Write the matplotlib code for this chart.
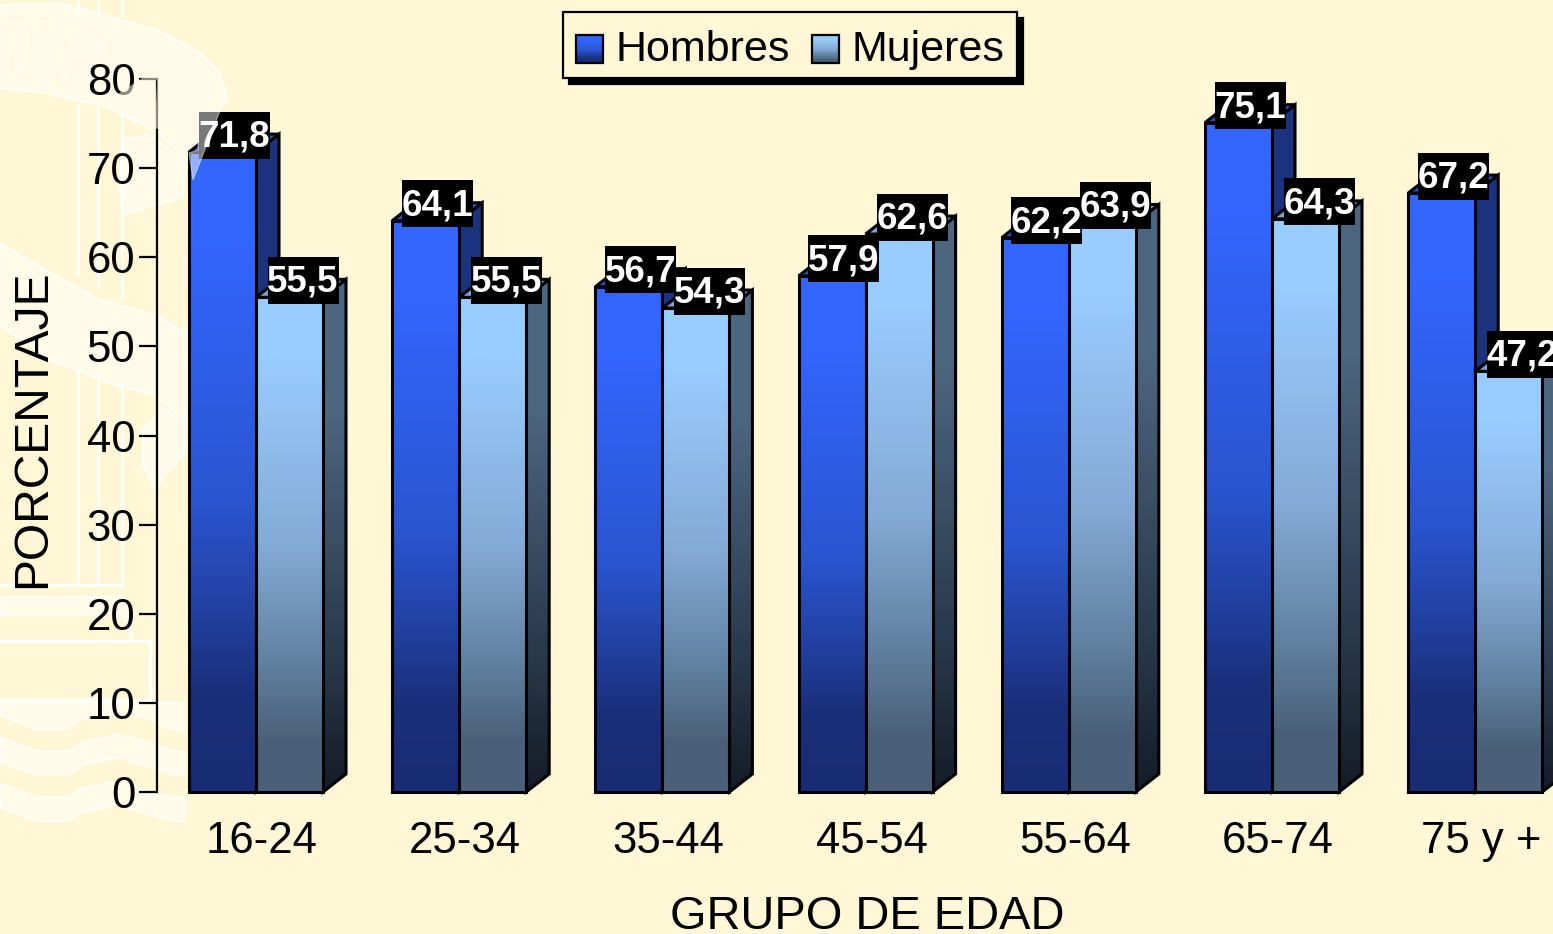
import numpy as np
import matplotlib
matplotlib.use('Agg')
import matplotlib.pyplot as plt
from matplotlib.colors import LinearSegmentedColormap
from matplotlib.legend_handler import HandlerBase
from matplotlib.patches import Patch, Polygon, Rectangle

plt.rcParams['font.family'] = ['Liberation Sans', 'DejaVu Sans']

grupos = ['16-24', '25-34', '35-44', '45-54', '55-64', '65-74', '75 y +']
hombres = [71.8, 64.1, 56.7, 57.9, 62.2, 75.1, 67.2]
mujeres = [55.5, 55.5, 54.3, 62.6, 63.9, 64.3, 47.2]
etiquetas_y = [0, 10, 20, 30, 40, 50, 60, 70, 80]

W, H = 1553, 934
FONDO = '#FFF7D6'
PALIDO = '#FFFBE8'

cm_h = LinearSegmentedColormap.from_list('h', [(0, '#3366FF'), (.12, '#3366FF'), (.55, '#2A55D0'),
                                               (.85, '#1A2F7A'), (1, '#182C75')])
cm_h_lado = LinearSegmentedColormap.from_list('hl', [(0, '#1C3480'), (.6, '#1A3078'), (1, '#0F1C48')])
cm_m = LinearSegmentedColormap.from_list('m', [(0, '#99CCFF'), (.12, '#99CCFF'), (.5, '#84AAD6'),
                                               (.75, '#5F7F9E'), (.9, '#4A6078'), (1, '#4A6078')])
cm_m_lado = LinearSegmentedColormap.from_list('ml', [(0, '#4D6680'), (.25, '#4D6680'), (.75, '#28374A'),
                                                     (1, '#141C26')])
grad = np.linspace(0, 1, 256).reshape(-1, 1)

fig = plt.figure(figsize=(W / 100, H / 100), dpi=100, facecolor=FONDO)

# watermark behind the chart, in pixels
bg = fig.add_axes([0, 0, 1, 1])
bg.set_xlim(0, W)
bg.set_ylim(H, 0)
bg.axis('off')
pale = dict(facecolor=PALIDO, edgecolor='white', linewidth=1.2)
letra = dict(facecolor='#FFFCEC', edgecolor='#FFF8DC', linewidth=1)
bg.add_patch(Polygon([(0, 5), (60, 3), (157, 30), (200, 53), (220, 73), (227, 97), (218, 113),
                      (187, 160), (157, 132), (110, 108), (47, 93), (0, 88)], **pale))
bg.add_patch(Polygon([(122, 140), (150, 135), (187, 163), (182, 197), (122, 215), (120, 185)], **pale))
bg.add_patch(Polygon([(0, 243), (45, 270), (100, 300), (155, 315), (190, 335), (190, 425),
                      (155, 395), (115, 385), (50, 360), (0, 325)], **pale))
bg.add_patch(Polygon([(162, 408), (190, 425), (188, 450), (165, 475), (155, 490), (143, 465),
                      (143, 430)], **pale))
bg.add_patch(Polygon([(0, 18), (52, 19), (50, 27), (32, 28), (28, 80), (13, 75), (15, 27), (0, 25)], **letra))
bg.add_patch(Polygon([(70, 27), (105, 35), (112, 50), (100, 62), (112, 87), (98, 80), (85, 62),
                      (75, 62), (68, 88), (56, 85)], **letra))
for x0, a0, a1, b0 in ((78, 105, 275, 372), (98, 108, 285, 380), (122, 116, 298, 385)):
    bg.plot([x0, x0], [a0, a1], color='white', lw=1.8)
    bg.plot([x0, x0], [b0, 585], color='white', lw=1.8)
    bg.plot([x0, x0], [0, 15], color='white', lw=1.8)
bg.plot([0, 122], [585, 585], color='white', lw=2)
bg.plot([0, 125], [597, 597], color='white', lw=1.2)
bg.fill_between([0, 122, 132], [597, 597, 610], [615, 615, 640], color=PALIDO, ec='white', lw=1)
bg.plot([0, 150, 150, 0], [641, 641, 700, 700], color='white', lw=2.5)

ola_x = [0, 37, 67, 83, 115, 143, 173, 184]
olas = [([702, 702, 703, 703, 702, 702, 702, 702], [715, 729, 728, 718, 713, 717, 729, 730]),
        ([737, 751, 751, 742, 734, 740, 751, 751], [762, 774, 774, 765, 757, 764, 774, 774]),
        ([783, 797, 797, 788, 781, 788, 797, 797], [807, 821, 821, 812, 804, 812, 821, 821])]
for arriba, abajo in olas:
    bg.fill_between(ola_x, arriba, abajo, color=PALIDO, ec='white', lw=1)

# axes: y 0 at px 792, 80 at px 79, category centres at 262 + step * i
ax = fig.add_axes([157 / W, 1 - 792 / H, (W - 157) / W, (792 - 79) / H])
ax.patch.set_alpha(0)
PASO = 203.2
PY = 713 / 80
ax.set_xlim(-105 / PASO, (W - 262) / PASO)
ax.set_ylim(0, 80)

DX = 23 / PASO
DY = 18 / PY
ANCHO = 67 / PASO
CORRE = -6 / PASO


def relleno(xy, cmap, top, zorder):
    xs = [p[0] for p in xy]
    im = ax.imshow(grad, cmap=cmap, extent=(min(xs), max(xs), 0, top), aspect='auto',
                   origin='upper', zorder=zorder)
    pol = Polygon(xy, closed=True, facecolor='none', edgecolor='black', linewidth=2.2,
                  zorder=zorder + .1, clip_on=False)
    ax.add_patch(pol)
    im.set_clip_path(pol)


def barra(x, v, cm_f, cm_l, color_top, z):
    relleno([(x + ANCHO, 0), (x + ANCHO + DX, DY), (x + ANCHO + DX, v + DY), (x + ANCHO, v)],
            cm_l, v + DY, z)
    ax.add_patch(Polygon([(x, v), (x + DX, v + DY), (x + ANCHO + DX, v + DY), (x + ANCHO, v)],
                         facecolor=color_top, edgecolor='black', linewidth=2.2, zorder=z + .2,
                         clip_on=False))
    relleno([(x, 0), (x + ANCHO, 0), (x + ANCHO, v), (x, v)], cm_f, v, z + .3)


for i in range(len(grupos)):
    barra(i + CORRE - ANCHO, hombres[i], cm_h, cm_h_lado, '#2A52CC', 3 + i)
    barra(i + CORRE, mujeres[i], cm_m, cm_m_lado, '#7AA3CC', 3.5 + i)


def etiqueta(x, v, z):
    w, h = 71 / PASO, 47 / PY
    ax.add_patch(Rectangle((x - w / 2, v + 17 / PY - h / 2), w, h, facecolor='black',
                           edgecolor='none', zorder=z, clip_on=True))
    ax.text(x, v + 19 / PY, f'{v:.1f}'.replace('.', ','), color='white', fontsize=26.5,
            fontweight='bold', ha='center', va='center_baseline', zorder=z + .1, clip_on=True)


for i in range(len(grupos)):
    etiqueta(i + CORRE - 22 / PASO, hombres[i], 20 + i)
    etiqueta(i + CORRE + 47 / PASO, mujeres[i], 20.5 + i)

for s in ('top', 'right', 'bottom'):
    ax.spines[s].set_visible(False)
ax.spines['left'].set_linewidth(1.6)
ax.set_yticks(etiquetas_y)
ax.set_xticks(range(len(grupos)))
ax.set_xticklabels(grupos, fontsize=31.5)
ax.tick_params(axis='x', length=0, pad=21)
ax.tick_params(axis='y', length=13, width=1.6, labelsize=31.5, pad=2.5)
ax.set_xlabel('GRUPO DE EDAD', fontsize=33.8)
ax.xaxis.set_label_coords(867 / W, 1 - 917 / H, transform=fig.transFigure)
ax.xaxis.label.set_verticalalignment('center')
ax.set_ylabel('PORCENTAJE', fontsize=34.6)
ax.yaxis.set_label_coords(33 / W, 1 - 429 / H, transform=fig.transFigure)
ax.yaxis.label.set_verticalalignment('center')


class Degradado(HandlerBase):
    def __init__(self, cmap):
        super().__init__()
        self.cmap = cmap

    def create_artists(self, legend, orig, xd, yd, width, height, fontsize, trans):
        n = 16
        out = []
        baja = 4.5
        for k in range(n):
            out.append(Rectangle((xd, yd - baja + height * (1 - (k + 1) / n)), width, height / n + .3,
                                 facecolor=self.cmap(k / (n - 1)), edgecolor='none',
                                 transform=trans))
        out.append(Rectangle((xd, yd - baja), width, height, facecolor='none', edgecolor='black',
                             linewidth=1.6, transform=trans))
        return out


h1, h2 = Patch(label='Hombres'), Patch(label='Mujeres')
ley = fig.legend(handles=[h1, h2], labels=['Hombres', 'Mujeres'], ncol=2, fontsize=31,
                 loc='center', bbox_to_anchor=(790 / W, 1 - 45 / H), fancybox=False,
                 facecolor=FONDO, edgecolor='black', framealpha=1,
                 shadow={'color': 'black', 'alpha': 1, 'ox': 4.3, 'oy': -4.3, 'shade': 0},
                 handlelength=.63, handleheight=.63, handletextpad=.3, columnspacing=.5,
                 borderpad=.3, borderaxespad=0, labelspacing=0,
                 handler_map={h1: Degradado(cm_h), h2: Degradado(cm_m)})
ley.get_frame().set_linewidth(1.6)
ley.set_zorder(30)
for t in ley.get_texts():
    t.set_y(-5)

# pale shapes that lie over the chart in the reference
top = fig.add_axes([0, 0, 1, 1], zorder=25)
top.set_xlim(0, W)
top.set_ylim(H, 0)
top.axis('off')
top.add_patch(Polygon([(113, 97), (170, 60), (177, 63), (170, 133), (155, 128), (157, 80), (125, 100)],
                      facecolor=PALIDO, edgecolor='none', alpha=.55))
top.add_patch(Polygon([(198, 111), (220, 111), (193, 180), (189, 153), (198, 150)],
                      facecolor='white', edgecolor='white', linewidth=.8, alpha=.48))

plt.savefig('out.png', dpi=100, facecolor=FONDO)
